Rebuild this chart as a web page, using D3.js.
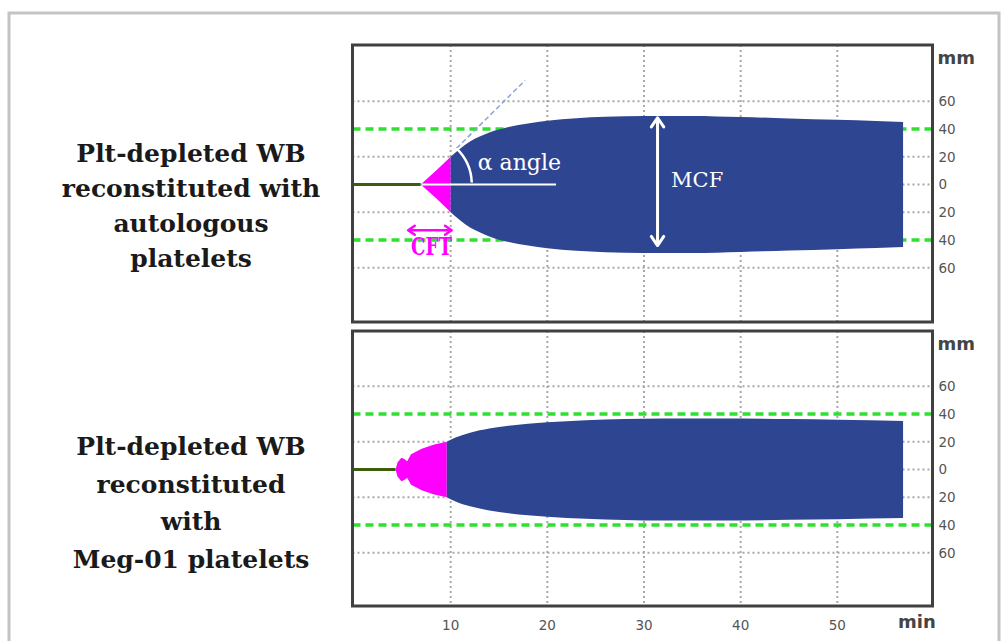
<!DOCTYPE html>
<html>
<head>
<meta charset="utf-8">
<script src="https://cdn.jsdelivr.net/npm/d3@7"></script>
<style>
  body { margin: 0; background: #fff; }
  svg { display: block; }
</style>
</head>
<body>
<script>
// 坐标轴刻度
var xTicks = [10, 20, 30, 40, 50];
var yTicks = [60, 40, 20, 0, -20, -40, -60];
var yTickLabels = ['60', '40', '20', '0', '20', '40', '60'];
// 虚线网格 和 绿色参考线 (mm)
var gridMm = [60, 20, 0, -20, -60];
var refMm = [40, -40];

// 上图: autologous platelets
var aLineT = [0, 6.9];
var aPinkT = [6.9, 8.5, 10];
var aPinkAmp = [0, 10, 20];
var aBlueT = [10, 11, 12, 13, 14, 16, 18, 20, 23, 26, 30, 35, 40, 45, 50, 54, 56.8];
var aBlueAmp = [20, 26, 31, 34.5, 37.5, 41.5, 44, 46, 47.8, 48.8, 49.4, 49.4, 48.6, 47.6, 46.6, 45.8, 45];

// 下图: Meg-01 platelets
var bLineT = [0, 4.3];
var bPinkT = [4.3, 4.5, 4.9, 5.2, 5.5, 5.9, 7, 8.3, 9.6];
var bPinkAmp = [0, 5, 8.5, 7.5, 6, 11, 15, 18, 20];
var bBlueT = [9.6, 10.5, 12, 14, 16, 18, 20, 24, 28, 32, 38, 45, 50, 56.8];
var bBlueAmp = [20, 23, 26.5, 29.5, 31.5, 33, 34, 35.5, 36.4, 36.8, 36.8, 36.3, 35.8, 35];

var panelLabels = [
  ['Plt-depleted WB', 'reconstituted with', 'autologous', 'platelets'],
  ['Plt-depleted WB', 'reconstituted', 'with', 'Meg-01 platelets']
];

var width = 1003, height = 641;
var svg = d3.select('body').append('svg')
  .attr('width', width)
  .attr('height', height);

// 外框
svg.append('rect')
  .attr('x', 9).attr('y', 13)
  .attr('width', 990).attr('height', 650)
  .attr('fill', '#fff')
  .attr('stroke', '#c4c4c4')
  .attr('stroke-width', 3);

var x = d3.scaleLinear().domain([0, 60]).range([354, 934]);

var panels = [
  { range: [322, 45], domain: [-99.1, 100.5], lineT: aLineT, pinkT: aPinkT, pinkAmp: aPinkAmp,
    blueT: aBlueT, blueAmp: aBlueAmp, labelY: 162, labelGap: 35 },
  { range: [606, 331], domain: [-98.4, 99.8], lineT: bLineT, pinkT: bPinkT, pinkAmp: bPinkAmp,
    blueT: bBlueT, blueAmp: bBlueAmp, labelY: 455, labelGap: 37.5 }
];

var green = '#2fe02f', navy = '#2e4592', pink = '#ff00ff';

panels.forEach(function (p, i) {
  var y = d3.scaleLinear().domain(p.domain).range(p.range);
  var g = svg.append('g').attr('class', 'panel');
  var left = x(0) - 1.5, right = x(60) - 1.5;

  // 网格
  g.selectAll('line.vgrid').data(xTicks).enter().append('line')
    .attr('x1', d => x(d)).attr('x2', d => x(d))
    .attr('y1', p.range[1]).attr('y2', p.range[0])
    .attr('stroke', '#a8a8a8').attr('stroke-width', 2).attr('stroke-dasharray', '2,3');
  g.selectAll('line.hgrid').data(gridMm).enter().append('line')
    .attr('x1', left).attr('x2', right)
    .attr('y1', d => y(d)).attr('y2', d => y(d))
    .attr('stroke', '#a8a8a8').attr('stroke-width', 2).attr('stroke-dasharray', '2,3');
  // 绿色参考线
  g.selectAll('line.ref').data(refMm).enter().append('line')
    .attr('x1', left).attr('x2', right)
    .attr('y1', d => y(d)).attr('y2', d => y(d))
    .attr('stroke', green).attr('stroke-width', 3.5).attr('stroke-dasharray', '8,5');

  // 基线
  g.append('line')
    .attr('x1', x(p.lineT[0])).attr('x2', x(p.lineT[1]))
    .attr('y1', y(0)).attr('y2', y(0))
    .attr('stroke', '#3b5e0c').attr('stroke-width', 3);

  var area = d3.area()
    .x(d => x(d[0]))
    .y0(d => y(-d[1]))
    .y1(d => y(d[1]));

  g.append('path')
    .datum(d3.zip(p.pinkT, p.pinkAmp))
    .attr('d', area.curve(d3.curveLinear))
    .attr('fill', pink);
  g.append('path')
    .datum(d3.zip(p.blueT, p.blueAmp))
    .attr('d', area.curve(d3.curveMonotoneX))
    .attr('fill', navy);

  // 边框
  g.append('rect')
    .attr('x', left).attr('y', p.range[1])
    .attr('width', right - left).attr('height', p.range[0] - p.range[1])
    .attr('fill', 'none').attr('stroke', '#404040').attr('stroke-width', 3);

  // 右侧 y 轴标签
  g.selectAll('text.ytick').data(yTicks).enter().append('text')
    .attr('x', right + 6).attr('y', d => y(d)).attr('dy', '0.36em')
    .attr('font-family', 'DejaVu Sans').attr('font-size', 13.5).attr('fill', '#555')
    .text((d, j) => yTickLabels[j]);
  g.append('text')
    .attr('x', right + 5).attr('y', p.range[1] + 19)
    .attr('font-family', 'DejaVu Sans').attr('font-weight', 'bold')
    .attr('font-size', 18).attr('fill', '#444')
    .text('mm');

  // 左侧说明文字
  g.selectAll('text.label').data(panelLabels[i]).enter().append('text')
    .attr('x', 191).attr('y', (d, j) => p.labelY + j * p.labelGap)
    .attr('text-anchor', 'middle')
    .attr('font-family', 'DejaVu Serif').attr('font-weight', 'bold')
    .attr('font-size', 25).attr('fill', '#1a1a1a')
    .text(d => d);

  p.y = y;
});

// x 轴标签
svg.selectAll('text.xtick').data(xTicks).enter().append('text')
  .attr('x', d => x(d)).attr('y', 625).attr('dy', '0.36em')
  .attr('text-anchor', 'middle')
  .attr('font-family', 'DejaVu Sans').attr('font-size', 13.5).attr('fill', '#555')
  .text(d => d);
svg.append('text')
  .attr('x', 898).attr('y', 628)
  .attr('font-family', 'DejaVu Sans').attr('font-weight', 'bold')
  .attr('font-size', 18).attr('fill', '#444')
  .text('min');

// 上图标注
var yA = panels[0].y;
var ann = svg.append('g').attr('class', 'annotations');
var vx = x(7), vy = yA(0);
// 切线
ann.append('line')
  .attr('x1', x(10.6)).attr('y1', yA(26))
  .attr('x2', x(17.7)).attr('y2', yA(75))
  .attr('stroke', '#86a6d6').attr('stroke-width', 1.5).attr('stroke-dasharray', '5,3');
// 水平线
ann.append('line')
  .attr('x1', vx).attr('y1', vy)
  .attr('x2', x(20.9)).attr('y2', vy)
  .attr('stroke', '#fff').attr('stroke-width', 2);
// 角度弧
var r = Math.hypot(x(10.6) - vx, yA(26) - vy);
var a0 = Math.atan2(yA(26) - vy, x(10.6) - vx);
var arcPath = d3.path();
arcPath.arc(vx, vy, r, a0, -0.04, false);
ann.append('path')
  .attr('d', arcPath.toString())
  .attr('fill', 'none').attr('stroke', '#fff').attr('stroke-width', 2.5);
ann.append('text')
  .attr('x', x(12.8)).attr('y', yA(10.5))
  .attr('font-family', 'DejaVu Serif').attr('font-size', 22).attr('fill', '#fff')
  .text('α angle');

// 双箭头
function doubleArrow(x1, y1, x2, y2, color, w, hs) {
  var ang = Math.atan2(y2 - y1, x2 - x1);
  ann.append('line')
    .attr('x1', x1).attr('y1', y1).attr('x2', x2).attr('y2', y2)
    .attr('stroke', color).attr('stroke-width', w);
  [[x1, y1, ang + Math.PI], [x2, y2, ang]].forEach(function (e) {
    var pts = [
      [e[0] - hs * Math.cos(e[2] - 0.6), e[1] - hs * Math.sin(e[2] - 0.6)],
      [e[0], e[1]],
      [e[0] - hs * Math.cos(e[2] + 0.6), e[1] - hs * Math.sin(e[2] + 0.6)]
    ];
    ann.append('path')
      .attr('d', d3.line()(pts))
      .attr('fill', 'none').attr('stroke', color).attr('stroke-width', w)
      .attr('stroke-linecap', 'round').attr('stroke-linejoin', 'round');
  });
}
// MCF
doubleArrow(x(31.4), yA(48), x(31.4), yA(-44), '#fff', 3, 11);
ann.append('text')
  .attr('x', x(32.8)).attr('y', yA(-1.8))
  .attr('font-family', 'DejaVu Serif')
  .attr('font-size', 21).attr('fill', '#fff')
  .text('MCF');

// CFT
doubleArrow(x(5.6), yA(-33), x(10.1), yA(-33), pink, 2.5, 8);
ann.append('text')
  .attr('x', x(5.9)).attr('y', yA(-51))
  .attr('font-family', 'DejaVu Serif').attr('font-weight', 'bold')
  .attr('font-size', 24).attr('fill', pink)
  .attr('textLength', 41).attr('lengthAdjust', 'spacingAndGlyphs')
  .text('CFT');
</script>
</body>
</html>
